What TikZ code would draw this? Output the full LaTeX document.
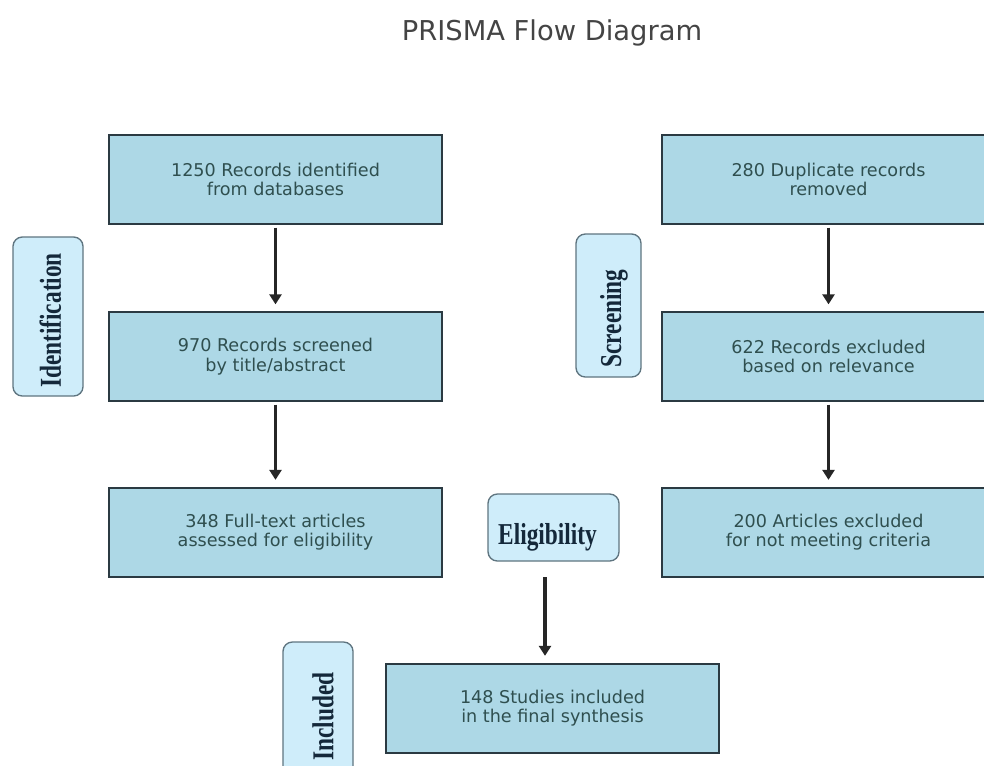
\documentclass[tikz,border=0pt]{standalone}
\usepackage{fontspec}
\setmainfont{DejaVu Sans}
\newfontfamily\labfont{Liberation Serif}
\usetikzlibrary{arrows.meta}
\definecolor{boxfill}{HTML}{ADD8E6}
\definecolor{boxline}{HTML}{2B3A42}
\definecolor{boxtext}{HTML}{2F4F4F}
\definecolor{labfill}{HTML}{CFEDFA}
\definecolor{labline}{HTML}{5F7580}
\definecolor{labtext}{HTML}{14283A}
\definecolor{titletext}{HTML}{444444}
\newcommand\phasetext[1]{\scalebox{1}[1.3]{\labfont\bfseries\fontsize{17.5}{20}\selectfont #1}}
\begin{document}
\begin{tikzpicture}[x=0.75pt,y=-0.75pt,
 stagebox/.style={draw=boxline, line width=1.5pt, fill=boxfill, minimum width=249.75pt, minimum height=66.75pt, align=center, text=boxtext, font=\fontsize{13.2}{14.5}\selectfont, inner sep=0pt},
 phase/.style={draw=labline, line width=1pt, fill=labfill, rounded corners=7pt, text=labtext, inner sep=0pt},
 flow/.style={draw=black!85, line width=2.3pt, -{Triangle[width=9pt,length=7.5pt]}, shorten <=2pt, shorten >=5pt}]
\useasboundingbox (0,0) rectangle (984,765);
\clip (0,0) rectangle (984,765);
\fill[white] (0,0) rectangle (984,765);

\node[text=titletext, font=\fontsize{20.5}{24}\selectfont] (title) at (552,33) {PRISMA Flow Diagram};

\node[stagebox] (A) at (275.5,179.5) {1250 Records identified\\from databases};
\node[stagebox] (B) at (275.5,356.5) {970 Records screened\\by title/abstract};
\node[stagebox] (C) at (275.5,532) {348 Full-text articles\\assessed for eligibility};
\node[stagebox] (D) at (828.5,179.5) {280 Duplicate records\\removed};
\node[stagebox] (E) at (828.5,356.5) {622 Records excluded\\based on relevance};
\node[stagebox] (F) at (828.5,532) {200 Articles excluded\\for not meeting criteria};
\node[stagebox] (G) at (552.5,708) {148 Studies included\\in the final synthesis};

\node[phase, minimum width=52.5pt, minimum height=119.25pt] (ident) at (48,316.5) {\kern3.5pt\rotatebox{90}{\phasetext{Identification}\kern6pt}};
\node[phase, minimum width=48.75pt, minimum height=107.25pt] (screen) at (608.5,305.5) {\kern8pt\rotatebox{90}{\phasetext{Screening}\kern19.5pt}};
\node[phase, minimum width=98.25pt, minimum height=50.25pt, text height=26pt, text depth=0pt] (elig) at (553.5,527.5) {\phasetext{Eligibility}\kern9pt};
\node[phase, minimum width=52.5pt, minimum height=119.25pt] (incl) at (318,721.5) {\kern7.5pt\rotatebox{90}{\kern7.5pt\phasetext{Included}}};

\draw[flow] (A) -- (B);
\draw[flow] (B) -- (C);
\draw[flow] (D) -- (E);
\draw[flow] (E) -- (F);
\coordinate (e1) at (545,577);
\draw[flow, shorten <=0pt] (e1) -- (e1 |- G.north);
\end{tikzpicture}
\end{document}
